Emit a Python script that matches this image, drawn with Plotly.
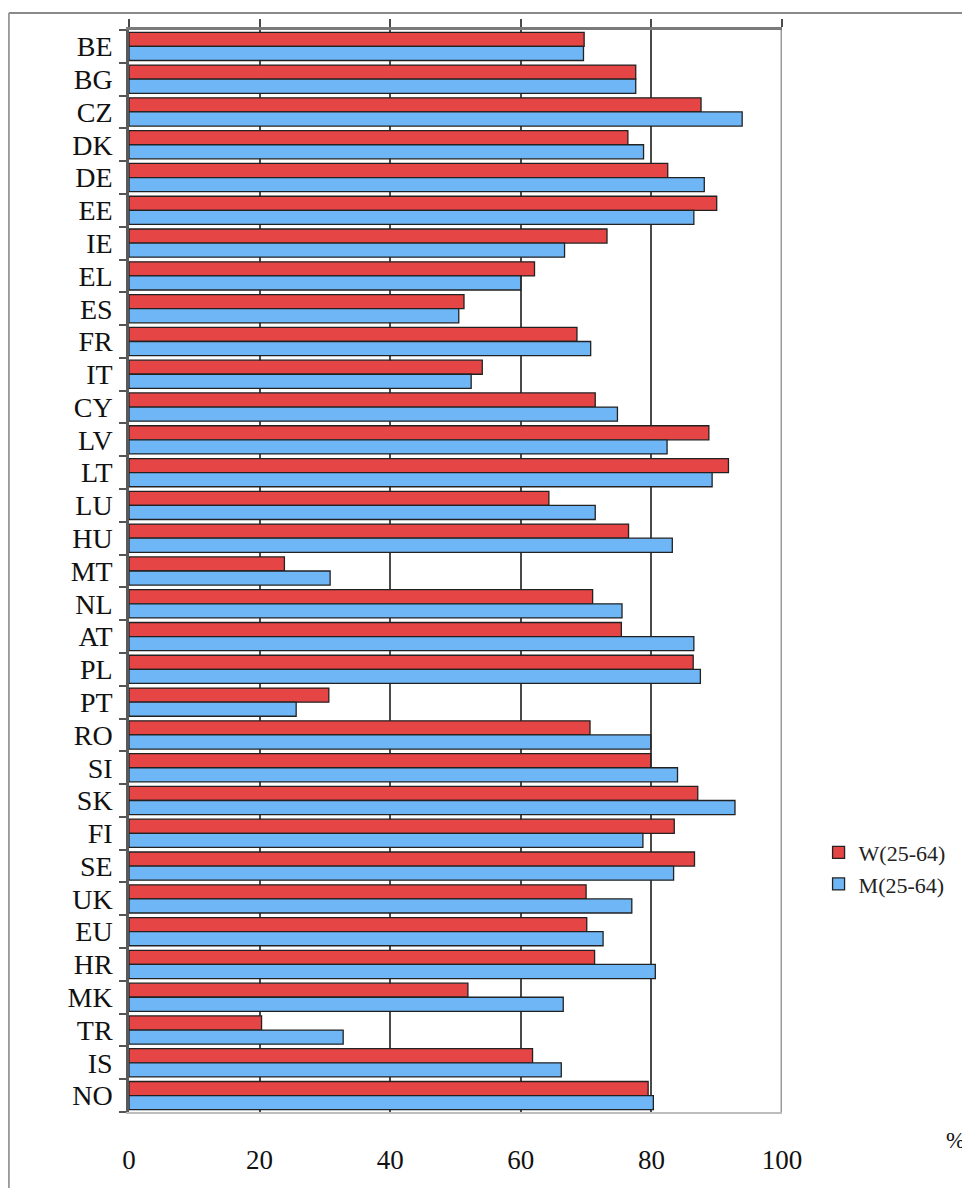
import plotly.graph_objects as go

countries = ["BE", "BG", "CZ", "DK", "DE", "EE", "IE", "EL", "ES", "FR", "IT", "CY",
             "LV", "LT", "LU", "HU", "MT", "NL", "AT", "PL", "PT", "RO", "SI", "SK",
             "FI", "SE", "UK", "EU", "HR", "MK", "TR", "IS", "NO"]
women = [69.7, 77.6, 87.6, 76.4, 82.5, 90.0, 73.2, 62.1, 51.3, 68.6, 54.1, 71.4,
         88.8, 91.8, 64.3, 76.5, 23.8, 71.0, 75.4, 86.4, 30.6, 70.6, 79.9, 87.1,
         83.5, 86.6, 70.0, 70.1, 71.3, 51.9, 20.3, 61.8, 79.5]
men = [69.6, 77.6, 93.9, 78.8, 88.1, 86.5, 66.7, 60.0, 50.5, 70.7, 52.4, 74.8,
       82.4, 89.3, 71.4, 83.2, 30.8, 75.5, 86.5, 87.5, 25.6, 79.9, 84.0, 92.8,
       78.7, 83.4, 77.0, 72.6, 80.6, 66.5, 32.8, 66.2, 80.3]
series_names = ["W(25-64)", "M(25-64)"]
x_ticks = [0, 20, 40, 60, 80, 100]

FONT = "Liberation Serif, Times New Roman, serif"

fig = go.Figure()
fig.add_trace(go.Bar(
    y=countries, x=women, orientation="h", name=series_names[0],
    marker=dict(color="#E54545", line=dict(color="#222", width=1.3)),
))
fig.add_trace(go.Bar(
    y=countries, x=men, orientation="h", name=series_names[1],
    marker=dict(color="#6FB6F6", line=dict(color="#222", width=1.3)),
))
# invisible trace so the top tick axis is drawn
fig.add_trace(go.Scatter(x=[0, 100], y=[countries[0], countries[0]], xaxis="x2",
                         mode="lines", line=dict(width=0), showlegend=False,
                         hoverinfo="skip"))

# page body has an 8px default margin: figure is sized/offset to compensate
fig.update_layout(
    width=962, height=1180,
    margin=dict(l=121, r=188, t=22, b=76, autoexpand=False),
    paper_bgcolor="white", plot_bgcolor="white",
    barmode="group", bargap=0.14, bargroupgap=0.0,
    font=dict(family=FONT, color="#111"),
    showlegend=True,
    legend=dict(x=1.056, y=0.225, xanchor="left", yanchor="middle",
                font=dict(family=FONT, size=22, color="#222"),
                traceorder="normal", itemwidth=30,
                bgcolor="rgba(0,0,0,0)"),
    xaxis=dict(range=[0, 100], tickvals=x_ticks, ticktext=[str(v) for v in x_ticks],
               showgrid=True, gridcolor="#4a4a4a", gridwidth=1.5,
               showline=True, linecolor="#bdbdbd", linewidth=2,
               ticks="", zeroline=False, automargin=False,
               tickfont=dict(family=FONT, size=27, color="#111"),
               ticklabelstandoff=23, fixedrange=True),
    xaxis2=dict(range=[0, 100], overlaying="x", side="top", tickvals=x_ticks,
                showticklabels=False, ticks="outside", ticklen=8, tickwidth=1.5,
                tickcolor="#4a4a4a", showline=True, linecolor="#7a7a7a", linewidth=2.5,
                showgrid=False, zeroline=False, automargin=False),
    yaxis=dict(autorange=False, range=[len(countries) - 0.5, -0.5],
               tickmode="array", tickvals=countries, ticktext=countries,
               showline=True, linecolor="#5a5a5a", linewidth=2.5,
               ticks="outside", tickson="boundaries", ticklen=7, tickwidth=1.5,
               tickcolor="#555", showgrid=False, automargin=False,
               tickfont=dict(family=FONT, size=28, color="#111"),
               ticklabelstandoff=8),
)

# right border of plot area at 100
fig.add_shape(type="line", xref="x", yref="paper", x0=100, x1=100, y0=0, y1=1,
              line=dict(color="#9a9a9a", width=3))
# figure frame (top and left)
fig.add_shape(type="line", xref="paper", yref="paper", x0=-0.184, x1=1.3, y0=1.0157, y1=1.0157,
              line=dict(color="#8a8a8a", width=2))
fig.add_shape(type="line", xref="paper", yref="paper", x0=-0.184, x1=-0.184, y0=1.0157, y1=-0.12,
              line=dict(color="#9a9a9a", width=2))

fig.add_annotation(text="%", xref="paper", yref="paper", x=1.266, y=-0.026,
                   showarrow=False, font=dict(family=FONT, size=23, color="#111"),
                   xanchor="center", yanchor="middle")

fig.write_html("out.html")
